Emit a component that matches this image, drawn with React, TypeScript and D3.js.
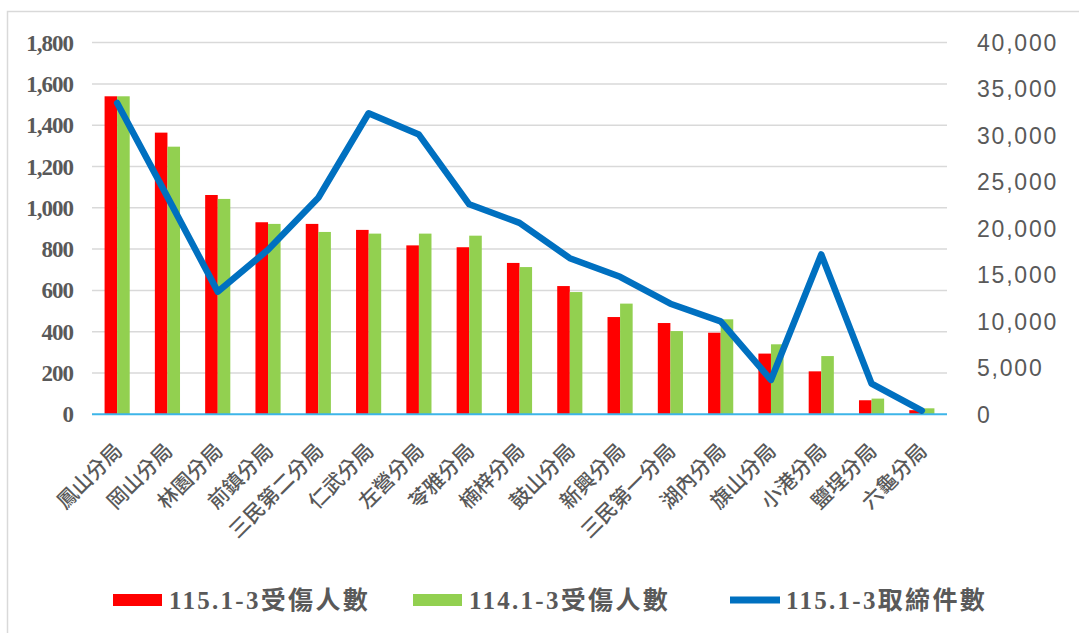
import React from "react";
import * as d3 from "d3";

const categories = ["鳳山分局","岡山分局","林園分局","前鎮分局","三民第二分局","仁武分局","左營分局","苓雅分局","楠梓分局","鼓山分局","新興分局","三民第一分局","湖內分局","旗山分局","小港分局","鹽埕分局","六龜分局"];
const injuries115 = [1540,1364,1062,930,922,893,818,809,733,621,471,442,395,294,208,68,20];
const injuries114 = [1540,1296,1043,922,883,875,875,865,713,592,536,403,460,339,282,76,29];
const cases115 = [33500,23400,13200,17700,23300,32400,30100,22600,20600,16800,14800,11900,10000,3700,17200,3300,400];
const leftTicks = [0,200,400,600,800,1000,1200,1400,1600,1800];
const rightTicks = [0,5000,10000,15000,20000,25000,30000,35000,40000];
const seriesNames = ["115.1-3受傷人數","114.1-3受傷人數","115.1-3取締件數"];

const W = 1079, H = 633;
const X0 = 92, X1 = 947, YB = 414.3, YT = 42.6;
const TEXT = "#595959";

export default function App() {
  const x = d3.scaleBand<string>().domain(categories).range([X0, X1]).paddingInner(0).paddingOuter(0);
  const step = x.step();
  const sub = d3.scaleBand<string>().domain(["a","b"]).range([step * 0.25, step * 0.75]);
  const yL = d3.scaleLinear().domain([0, 1800]).range([YB, YT]);
  const yR = d3.scaleLinear().domain([0, 40000]).range([YB, YT]);
  const fmt = d3.format(",");
  const line = d3.line<number>()
    .x((_, i) => (x(categories[i]) as number) + step / 2)
    .y((d) => yR(d));

  const legendX = [113, 413, 730];

  return (
    <div style={{ position: "fixed", left: 0, top: 0 }}>
      <svg width={W} height={H} style={{ display: "block", background: "#fff" }}>
        <rect x={7.5} y={11.5} width={W + 10} height={H + 10} fill="#fff" stroke="#d9d9d9" strokeWidth={1.5} />
        {leftTicks.filter((t) => t > 0).map((t) => (
          <line key={"g" + t} x1={X0} x2={X1} y1={yL(t)} y2={yL(t)} stroke="#d9d9d9" strokeWidth={1.5} />
        ))}
        {categories.map((c, i) => (
          <g key={c}>
            <rect x={(x(c) as number) + (sub("a") as number)} y={yL(injuries115[i])} width={sub.bandwidth()} height={YB - yL(injuries115[i])} fill="#FF0000" />
            <rect x={(x(c) as number) + (sub("b") as number)} y={yL(injuries114[i])} width={sub.bandwidth()} height={YB - yL(injuries114[i])} fill="#92D050" />
          </g>
        ))}
        <line x1={X0} x2={X1} y1={YB} y2={YB} stroke="#3DB5E8" strokeWidth={2} />
        <path d={line(cases115) || ""} fill="none" stroke="#0070C0" strokeWidth={6.5} strokeLinejoin="round" strokeLinecap="round" />
        {leftTicks.map((t) => (
          <text key={"l" + t} x={73} y={yL(t)} dy="0.35em" textAnchor="end" fill={TEXT}
            style={{ fontFamily: "'Liberation Serif', serif", fontWeight: 700, fontSize: 23, letterSpacing: -1 }}>
            {fmt(t)}
          </text>
        ))}
        {rightTicks.map((t) => (
          <text key={"r" + t} x={977} y={yR(t)} dy="0.36em" textAnchor="start" fill={TEXT}
            style={{ fontFamily: "'Liberation Sans', Arial, sans-serif", fontSize: 23, letterSpacing: 1.8 }}>
            {fmt(t)}
          </text>
        ))}
        {categories.map((c) => {
          const cx = (x(c) as number) + step / 2;
          return (
            <text key={"x" + c} transform={`translate(${cx},446) rotate(-45)`} textAnchor="end" dominantBaseline="central" fill={TEXT}
              style={{ fontFamily: "'Noto Sans CJK TC', sans-serif", fontSize: 20.5, fontWeight: 500 }}>
              {c}
            </text>
          );
        })}
        {seriesNames.map((n, i) => (
          <g key={n} transform={`translate(${legendX[i]},600)`}>
            {i < 2 ? (
              <rect x={0} y={-6} width={49} height={12} fill={i === 0 ? "#FF0000" : "#92D050"} />
            ) : (
              <line x1={0} x2={50} y1={0} y2={0} stroke="#0070C0" strokeWidth={7} />
            )}
            <text x={56} y={0} dy="0.35em" fill={TEXT}
              style={{ fontFamily: "'Liberation Serif', 'Noto Sans CJK TC', serif", fontWeight: 700, fontSize: 25, letterSpacing: 2.3 }}>
              {n}
            </text>
          </g>
        ))}
      </svg>
    </div>
  );
}
